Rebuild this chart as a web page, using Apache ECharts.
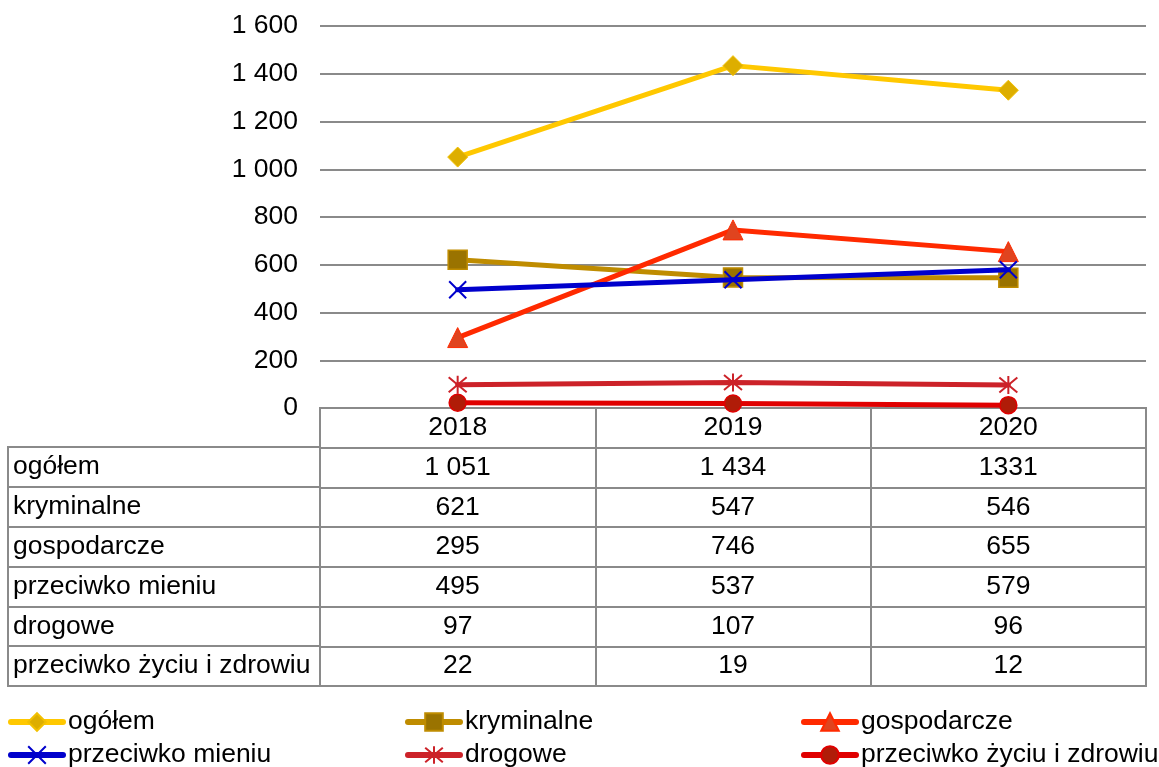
<!DOCTYPE html>
<html>
<head>
<meta charset="utf-8">
<script src="https://cdn.jsdelivr.net/npm/echarts@6/dist/echarts.min.js"></script>
<style>
  html, body { margin: 0; padding: 0; background: #fff; }
  #chart { width: 1159px; height: 767px; }
</style>
</head>
<body>
<div id="chart"></div>
<script>
// Liczba przestępstw według kategorii, lata 2018–2020
const years = ['2018', '2019', '2020'];
const seriesNames = ['ogółem', 'kryminalne', 'gospodarcze', 'przeciwko mieniu', 'drogowe', 'przeciwko życiu i zdrowiu'];
const ogolem = [1051, 1434, 1331];
const kryminalne = [621, 547, 546];
const gospodarcze = [295, 746, 655];
const przeciwkoMieniu = [495, 537, 579];
const drogowe = [97, 107, 96];
const przeciwkoZyciu = [22, 19, 12];
// grouping of thousands in the table, per year column
const spacedThousands = [true, true, false];
const yTicks = { min: 0, max: 1600, interval: 200 };

const values = [ogolem, kryminalne, gospodarcze, przeciwkoMieniu, drogowe, przeciwkoZyciu];
const FONT = 'Liberation Sans, Arial, sans-serif';
const FONT_SIZE = 26.5;
const GRID_LINE = '#8a8a8a';

function fmt(v, spaced) {
  const s = String(v);
  if (!spaced || v < 1000) return s;
  return s.replace(/\B(?=(\d{3})+(?!\d))/g, ' ');
}

const X_PATH = 'path://M0,0L10,10M10,0L0,10';
const STAR_PATH = 'path://M0,0L10,10M10,0L0,10M5,-1L5,11';

const styles = [
  { line: '#FFC800', symbol: 'diamond', size: 20, fill: '#DDAE00', border: '#F2C000', bw: 1 },
  { line: '#BF8C00', symbol: 'rect', size: 19, fill: '#9A7300', border: '#BF8C00', bw: 1.5 },
  { line: '#FF2A00', symbol: 'triangle', size: 20, fill: '#E0441F', border: '#FF2A00', bw: 1 },
  { line: '#0000CC', symbol: X_PATH, size: 17, fill: 'rgba(0,0,0,0)', border: '#0000CC', bw: 2 },
  { line: '#CC2229', symbol: STAR_PATH, size: 18, fill: 'rgba(0,0,0,0)', border: '#CC2229', bw: 2 },
  { line: '#E00000', symbol: 'circle', size: 17, fill: '#B01C08', border: '#E00000', bw: 1.5 }
];

const lineSeries = seriesNames.map((name, i) => ({
  name,
  type: 'line',
  xAxisIndex: 0,
  yAxisIndex: 0,
  data: values[i],
  symbol: styles[i].symbol,
  symbolSize: styles[i].size,
  showAllSymbol: true,
  lineStyle: { color: styles[i].line, width: 5, cap: 'round' },
  itemStyle: { color: styles[i].fill, borderColor: styles[i].border, borderWidth: styles[i].bw },
  emphasis: { disabled: true },
  z: 3 + i
}));

// table cells: header row with years, then one row per series
const tableRows = [''].concat(seriesNames);
const cells = [];
years.forEach((y, c) => cells.push({ value: [c, 0], text: y }));
values.forEach((row, r) => {
  row.forEach((v, c) => cells.push({ value: [c, r + 1], text: fmt(v, spacedThousands[c]) }));
});

const tableSeries = {
  name: 'tabela',
  type: 'scatter',
  xAxisIndex: 1,
  yAxisIndex: 1,
  data: cells,
  symbolSize: 0,
  itemStyle: { color: '#000', opacity: 1 },
  silent: true,
  label: {
    show: true,
    position: 'inside',
    formatter: p => p.data.text,
    fontFamily: FONT,
    fontSize: FONT_SIZE,
    color: '#000',
    opacity: 1,
    textBorderWidth: 0,
    textBorderColor: 'transparent'
  }
};

const legendCommon = {
  orient: 'vertical',
  padding: 0,
  height: 90,
  itemWidth: 52,
  itemHeight: 22,
  itemGap: 3,
  lineStyle: { width: 6, cap: 'round' },
  textStyle: { fontFamily: FONT, fontSize: FONT_SIZE, color: '#000', lineHeight: 30 },
  selectedMode: false
};

const gridBorder = { show: true, borderColor: GRID_LINE, borderWidth: 2, backgroundColor: 'rgba(0,0,0,0)' };

const option = {
  animation: false,
  backgroundColor: '#fff',
  textStyle: { fontFamily: FONT },
  grid: [
    { left: 320, right: 13, top: 26, height: 382, containLabel: false },
    Object.assign({ left: 320, right: 13, top: 408, height: 278 }, gridBorder),
    Object.assign({ left: 8, width: 312, top: 447, height: 239 }, gridBorder)
  ],
  xAxis: [
    { type: 'category', gridIndex: 0, data: years, boundaryGap: true, show: false },
    {
      type: 'category', gridIndex: 1, data: years, boundaryGap: true,
      axisLine: { show: false }, axisTick: { show: false }, axisLabel: { show: false, interval: 0 },
      splitLine: { show: true, interval: 0, lineStyle: { color: GRID_LINE, width: 2 } }
    },
    { type: 'value', gridIndex: 2, min: 0, max: 1, show: false }
  ],
  yAxis: [
    {
      type: 'value', gridIndex: 0, min: yTicks.min, max: yTicks.max, interval: yTicks.interval,
      axisLine: { show: false }, axisTick: { show: false },
      axisLabel: { fontFamily: FONT, fontSize: FONT_SIZE, color: '#000', margin: 22, formatter: v => fmt(v, true) },
      splitLine: { show: true, lineStyle: { color: GRID_LINE, width: 2 } }
    },
    {
      type: 'category', gridIndex: 1, data: tableRows, inverse: true,
      axisLine: { show: false }, axisTick: { show: false }, axisLabel: { show: false, interval: 0 },
      splitLine: { show: true, interval: 0, lineStyle: { color: GRID_LINE, width: 2 } }
    },
    {
      type: 'category', gridIndex: 2, data: seriesNames, inverse: true,
      axisLine: { show: false }, axisTick: { show: false },
      axisLabel: { show: true, inside: true, interval: 0, margin: 5, align: 'left', fontFamily: FONT, fontSize: FONT_SIZE, color: '#000' },
      splitLine: { show: true, interval: 0, lineStyle: { color: GRID_LINE, width: 2 } }
    }
  ],
  legend: [
    Object.assign({ left: 8, top: 707, data: [seriesNames[0], seriesNames[3]] }, legendCommon),
    Object.assign({ left: 405, top: 707, data: [seriesNames[1], seriesNames[4]] }, legendCommon),
    Object.assign({ left: 801, top: 707, data: [seriesNames[2], seriesNames[5]] }, legendCommon)
  ],
  series: lineSeries.concat([tableSeries])
};

const chart = echarts.init(document.getElementById('chart'), null, { renderer: 'canvas' });
chart.setOption(option);
</script>
</body>
</html>
